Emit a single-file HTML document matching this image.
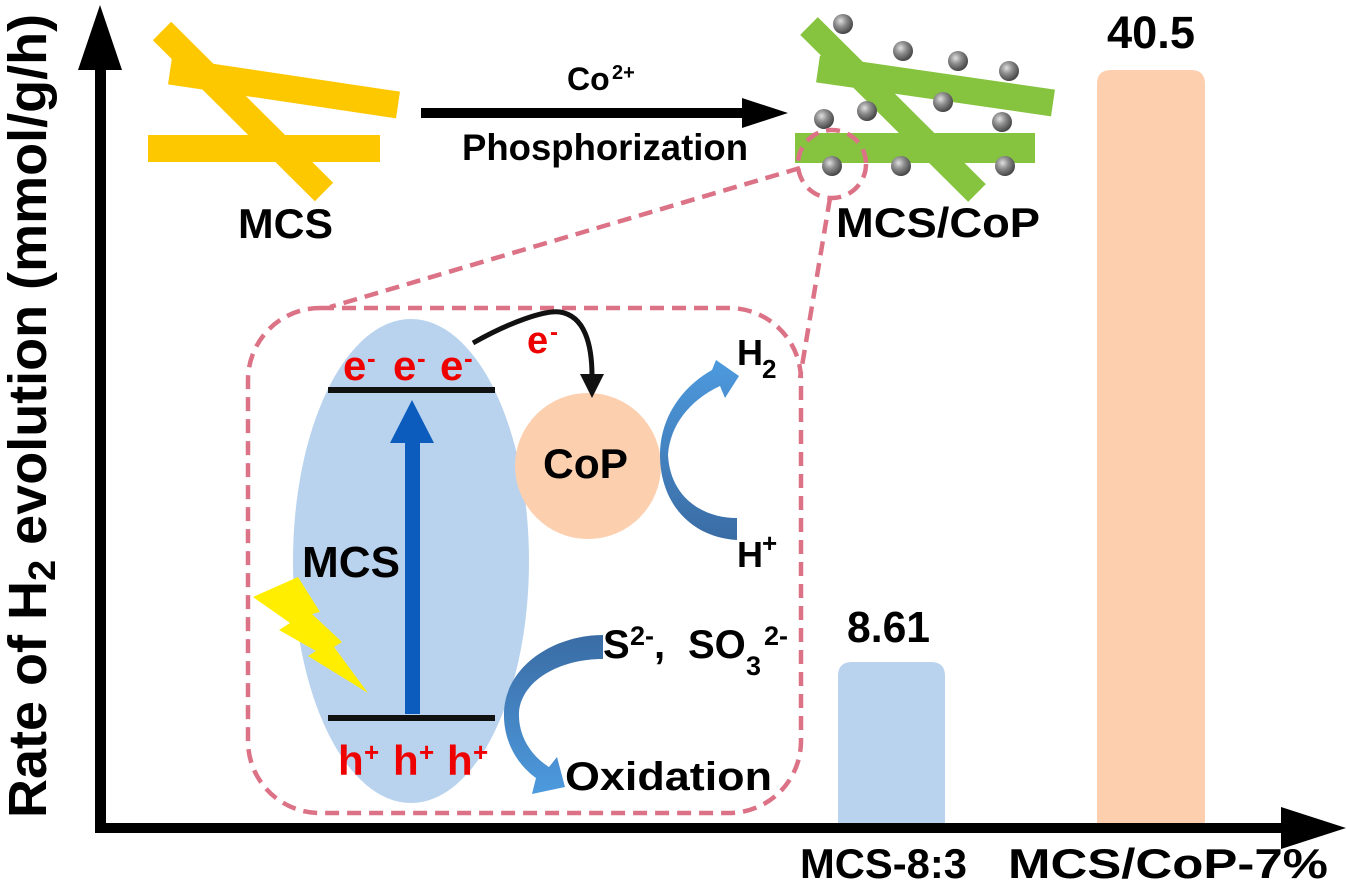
<!DOCTYPE html>
<html><head><meta charset="utf-8"><style>
html,body{margin:0;padding:0;background:#fff;}
svg{display:block;}
text{font-family:"Liberation Sans",Arial,sans-serif;font-weight:bold;}
</style></head><body>
<svg width="1347" height="886" viewBox="0 0 1347 886" xmlns="http://www.w3.org/2000/svg">
<defs>
<radialGradient id="sph" cx="38%" cy="35%" r="65%">
<stop offset="0" stop-color="#e0e0e0"/><stop offset="0.45" stop-color="#8e8e8e"/><stop offset="1" stop-color="#474747"/>
</radialGradient>
<linearGradient id="gH" x1="0" y1="0" x2="0" y2="1">
<stop offset="0" stop-color="#4d9ade"/><stop offset="1" stop-color="#3a6ca4"/>
</linearGradient>
<linearGradient id="gS" x1="0" y1="0" x2="0" y2="1">
<stop offset="0" stop-color="#3a6ca4"/><stop offset="1" stop-color="#4d9ade"/>
</linearGradient>
</defs>
<rect width="1347" height="886" fill="#fff"/>

<!-- bars -->
<path d="M838,828 V676 Q838,662 852,662 H931 Q945,662 945,676 V828 Z" fill="#b9d3ee"/>
<path d="M1097,828 V84 Q1097,70 1111,70 H1191 Q1205,70 1205,84 V828 Z" fill="#fdcfae"/>
<text x="847" y="642" font-size="44" textLength="83" lengthAdjust="spacingAndGlyphs">8.61</text>
<text x="1107" y="48" font-size="45" textLength="88" lengthAdjust="spacingAndGlyphs">40.5</text>

<!-- yellow MCS rods -->
<g stroke="#fdc800" fill="none">
<line x1="162" y1="31" x2="324" y2="192" stroke-width="26"/>
<line x1="170" y1="71" x2="398" y2="105" stroke-width="27"/>
</g>
<rect x="148" y="135" width="232" height="27" fill="#fdc800"/>
<text x="238" y="238" font-size="42" textLength="95" lengthAdjust="spacingAndGlyphs">MCS</text>

<!-- middle arrow -->
<rect x="421" y="108" width="325" height="10" fill="#000"/>
<polygon points="742,98 788,113 742,128" fill="#000"/>
<text x="567" y="90" font-size="32">Co</text>
<text x="612" y="79" font-size="20">2+</text>
<text x="462" y="160" font-size="37" textLength="286" lengthAdjust="spacingAndGlyphs">Phosphorization</text>

<!-- green rods -->
<g stroke="#86c440" fill="none">
<line x1="809" y1="26" x2="977" y2="193" stroke-width="25"/>
<line x1="818" y1="69" x2="1053" y2="103" stroke-width="27"/>
</g>
<rect x="795" y="133" width="240" height="30" fill="#86c440"/>
<g fill="url(#sph)">
<circle cx="843" cy="24" r="10"/><circle cx="903" cy="51" r="10"/><circle cx="958" cy="61" r="10"/>
<circle cx="1009" cy="71" r="10"/><circle cx="867" cy="111" r="10"/><circle cx="943" cy="102" r="10"/>
<circle cx="824" cy="119" r="10"/><circle cx="1002" cy="122" r="10"/><circle cx="832" cy="166" r="10"/>
<circle cx="901" cy="166" r="10"/><circle cx="1005" cy="166" r="10"/>
</g>
<text x="836" y="237" font-size="42" textLength="204" lengthAdjust="spacingAndGlyphs">MCS/CoP</text>

<!-- dashed zoom -->
<g stroke="#dc7286" stroke-width="4.5" fill="none" stroke-dasharray="14 8">
<circle cx="832" cy="164" r="34"/>
<line x1="800" y1="168" x2="330" y2="307"/>
<line x1="830" y1="198" x2="800" y2="378"/>
<rect x="248" y="308" width="553" height="505" rx="72" ry="72"/>
</g>

<!-- ellipse -->
<ellipse cx="411" cy="561" rx="118" ry="242" fill="#b9d3ee"/>
<rect x="405" y="440" width="15" height="274" fill="#0b5cbc"/>
<polygon points="412,400 390,443 434,443" fill="#0b5cbc"/>
<line x1="328" y1="390" x2="495" y2="390" stroke="#111" stroke-width="6"/>
<line x1="328" y1="718" x2="495" y2="718" stroke="#111" stroke-width="6"/>
<g fill="#ee0000">
<text x="343" y="380" font-size="42">e</text><text x="367" y="367" font-size="26">-</text>
<text x="393" y="380" font-size="42">e</text><text x="417" y="367" font-size="26">-</text>
<text x="440" y="380" font-size="42">e</text><text x="464" y="367" font-size="26">-</text>
<text x="338" y="775" font-size="42">h</text><text x="364" y="761" font-size="26">+</text>
<text x="393" y="775" font-size="42">h</text><text x="419" y="761" font-size="26">+</text>
<text x="447" y="775" font-size="42">h</text><text x="473" y="761" font-size="26">+</text>
<text x="527" y="353" font-size="38">e</text><text x="550" y="340" font-size="24">-</text>
</g>
<text x="302" y="577" font-size="44" textLength="98" lengthAdjust="spacingAndGlyphs">MCS</text>

<!-- lightning -->
<polygon points="253,597 298,577 320,612 312,614 342,642 334,647 368,693 308,656 316,651 279,630 290,623" fill="#ffee00"/>

<!-- CoP -->
<circle cx="588" cy="466" r="73" fill="#fccfae"/>
<text x="543" y="478" font-size="42" textLength="85" lengthAdjust="spacingAndGlyphs">CoP</text>
<path d="M473,343 C510,322 545,310 560,312 C585,316 592,345 592,376" stroke="#111" stroke-width="5" fill="none"/>
<polygon points="580,374 604,374 592,398" fill="#111"/>

<!-- H arrow -->
<path d="M737,540 C688,537 660,500 660,455 C660,415 685,385 712,370 L716,360 L739,376 L725,398 L720,386 C690,400 670,425 668,455 C670,495 700,518 737,518 Z" fill="url(#gH)"/>
<text x="737" y="365" font-size="36">H</text><text x="762" y="378" font-size="26">2</text>
<text x="737" y="567" font-size="36">H</text><text x="762" y="552" font-size="26">+</text>

<!-- S arrow -->
<path d="M603,635 C555,635 506,665 504,712 C503,742 518,765 536,778 L532,794 L565,787 L557,757 L549,767 C530,755 518,735 519,712 C522,680 560,659 603,659 Z" fill="url(#gS)"/>
<text x="603" y="658" font-size="40">S</text>
<text x="630" y="645" font-size="27">2-</text>
<text x="654" y="658" font-size="40">,</text>
<text x="688" y="658" font-size="40">SO</text>
<text x="746" y="675" font-size="27">3</text>
<text x="764" y="645" font-size="27">2-</text>
<text x="565" y="790" font-size="40" textLength="207" lengthAdjust="spacingAndGlyphs">Oxidation</text>

<!-- axes -->
<rect x="95" y="60" width="11" height="773" fill="#000"/>
<polygon points="100,5 78,70 122,70" fill="#000"/>
<rect x="95" y="823" width="1190" height="10" fill="#000"/>
<polygon points="1281,807 1346,828 1281,849" fill="#000"/>

<text transform="translate(46,818) rotate(-90)" font-size="54">Rate of H<tspan font-size="38" dy="9">2</tspan><tspan dy="-9"> evolution (mmol/g/h)</tspan></text>

<text x="800" y="878" font-size="42" textLength="167" lengthAdjust="spacingAndGlyphs">MCS-8:3</text>
<text x="1008" y="878" font-size="42" textLength="320" lengthAdjust="spacingAndGlyphs">MCS/CoP-7%</text>
</svg>
</body></html>
